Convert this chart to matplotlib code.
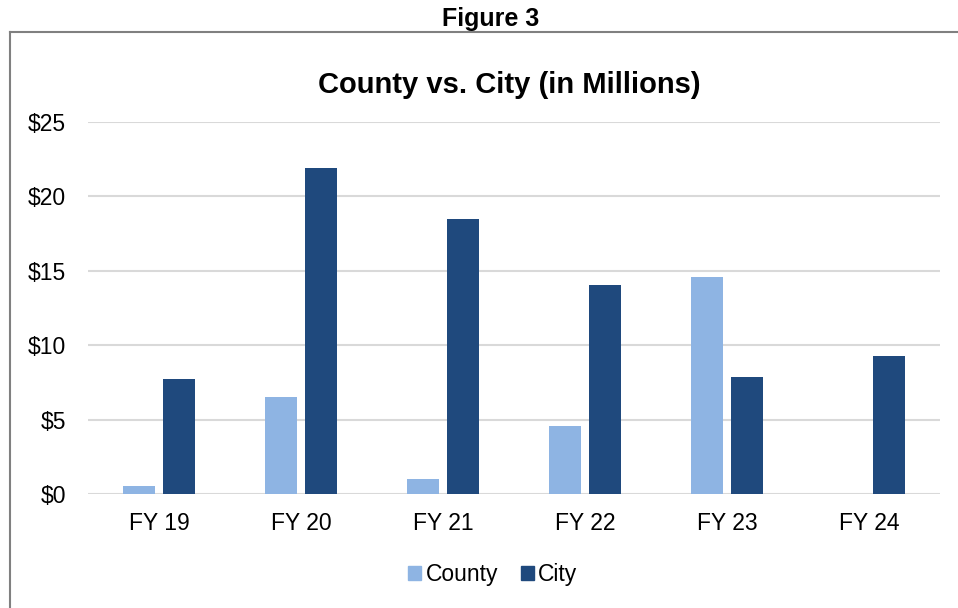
import matplotlib
matplotlib.use("Agg")
import matplotlib.pyplot as plt
from matplotlib.lines import Line2D
from matplotlib.patches import Patch
import numpy as np

plt.rcParams['font.family'] = ['Liberation Sans', 'DejaVu Sans']

categories = ["FY 19", "FY 20", "FY 21", "FY 22", "FY 23", "FY 24"]
county = [0.55, 6.5, 1.0, 4.55, 14.6, 0.0]
city = [7.7, 21.9, 18.5, 14.05, 7.85, 9.27]
yticks = [0, 5, 10, 15, 20, 25]
ytick_labels = ["$0", "$5", "$10", "$15", "$20", "$25"]

c_county = "#8EB4E3"
c_city = "#1F497D"

W, H = 958, 608
fig = plt.figure(figsize=(W/100, H/100), dpi=100)
ax = fig.add_axes([88/W, 1-494/H, (940-88)/W, (494-122)/H])

x = np.arange(len(categories))
bw = 0.225
off = 0.141
ax.bar(x - off, county, bw, color=c_county, zorder=3)
ax.bar(x + off, city, bw, color=c_city, zorder=3)

ax.set_xlim(-0.5, len(categories) - 0.5)
ax.set_ylim(0, 25)
ax.set_yticks(yticks)
ax.set_yticklabels(ytick_labels, fontsize=16.5)
ax.set_xticks(x)
ax.set_xticklabels(categories, fontsize=16.5)
ax.tick_params(axis='x', length=0, pad=13)
ax.tick_params(axis='y', length=0, pad=16)
ax.yaxis.grid(True, color="#D9D9D9", linewidth=1.5, zorder=0)
for s in ax.spines.values():
    s.set_visible(False)

fig.text(490.5/W, 1-19/H, "Figure 3", ha='center', va='center', fontsize=18, fontweight='bold')
fig.text(509.5/W, 1-85/H, "County vs. City (in Millions)", ha='center', va='center', fontsize=21, fontweight='bold')

# border box
fig.add_artist(Line2D([10/W, 1.0], [1-32/H, 1-32/H], color="#808080", linewidth=1.5, transform=fig.transFigure))
fig.add_artist(Line2D([10/W, 10/W], [1-32/H, 0], color="#808080", linewidth=1.5, transform=fig.transFigure))

handles = [Patch(color=c_county, label="County"), Patch(color=c_city, label="City")]
fig.legend(handles=handles, loc='center', bbox_to_anchor=(493/W, 1-575/H), ncol=2,
           frameon=False, fontsize=16.5, handlelength=0.55, handleheight=0.55,
           handletextpad=0.2, columnspacing=1.0)

fig.savefig("out.png", dpi=100)
